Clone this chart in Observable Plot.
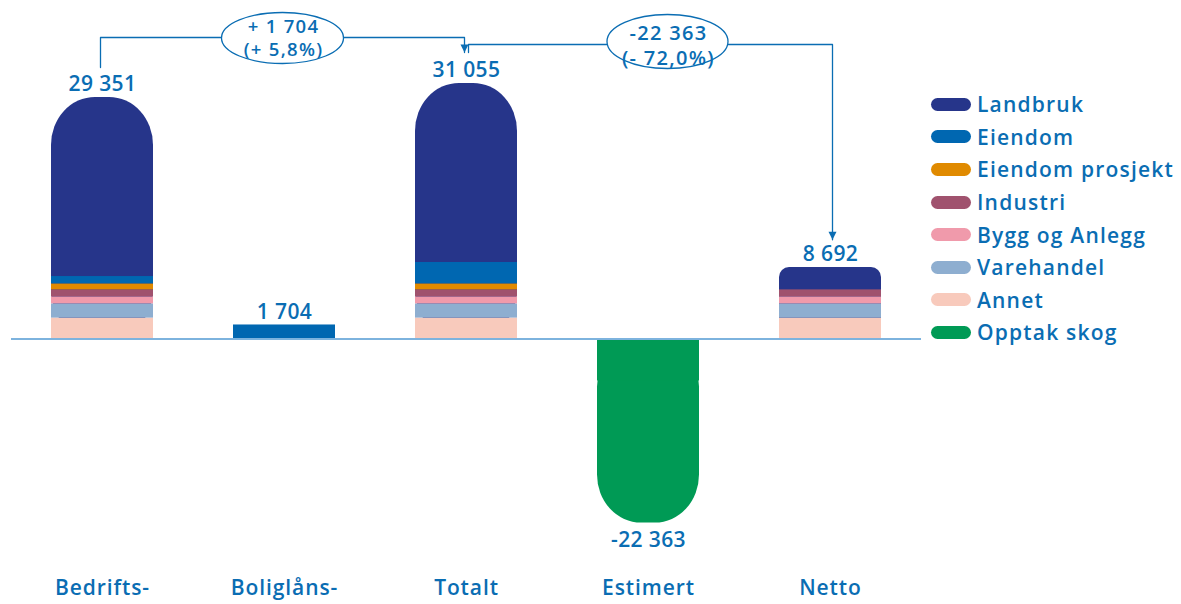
<!DOCTYPE html>
<html>
<head>
<meta charset="utf-8">
<script src="https://cdn.jsdelivr.net/npm/d3@7"></script>
<script src="https://cdn.jsdelivr.net/npm/@observablehq/plot@0.6"></script>
<style>
  html, body { margin: 0; padding: 0; background: #fff; }
  #wrap { position: relative; width: 1181px; height: 604px; overflow: hidden; font-family: "Open Sans", sans-serif; }
  #wrap svg text { font-weight: 600; letter-spacing: 0.4px; }
  #wrap svg g[aria-label="x-axis tick label"] text, #wrap svg g[aria-label="x-axis"] text { letter-spacing: 0.9px; }
  #legend { position: absolute; left: 931px; top: 88px; }
  .item { display: flex; align-items: center; height: 32.6px; color: #0a6db3; font-size: 21px; font-weight: 600; letter-spacing: 1.2px; }
  .sw { width: 40px; height: 13px; border-radius: 7px; margin-right: 6px; flex: none; }
</style>
</head>
<body>
<div id="wrap"><div id="legend"></div></div>
<script>
// ---- data ----
const categories = ["Bedrifts-", "Boliglåns-", "Totalt", "Estimert", "Netto"];
const sectors = ["Landbruk", "Eiendom", "Eiendom prosjekt", "Industri", "Bygg og Anlegg", "Varehandel", "Annet", "Opptak skog"];
const colors = ["#26358a", "#0067b1", "#e08a00", "#a0526e", "#f09aab", "#8eaed0", "#f8cabc", "#009a55"];
// values per category, in sector order
const bedrifts = [21761, 890, 730, 850, 850, 1730, 2540, 0];
const boliglan = [0, 1704, 0, 0, 0, 0, 0, 0];
const totalt   = [21761, 2594, 730, 850, 850, 1730, 2540, 0];
const estimert = [0, 0, 0, 0, 0, 0, 0, -22363];
const netto    = [2722, 0, 0, 850, 850, 1730, 2540, 0];
const totals = [29351, 1704, 31055, -22363, 8692];
const changeLabels = ["+ 1 704\n(+ 5,8%)", "-22 363\n(- 72,0%)"];
// annotation levels (data units)
const bracketTop = [36635, 35784];
const bracketStart = [32990, 34812];
const arrowEnd = [34812, 12060];
const squareTopCut = 5100;

const series = [bedrifts, boliglan, totalt, estimert, netto];
const blue = "#0a6db3";
const fmt = d3.formatLocale({thousands: "\u00a0", grouping: [3], decimal: ",", currency: ["", ""], minus: "-"}).format(",d");

// rows for stacked lower segments (drawn bottom-up: Annet ... Eiendom)
const stackOrder = [6, 5, 4, 3, 2, 1];
const segRows = [];
categories.forEach((c, ci) => {
  stackOrder.forEach(si => {
    const v = series[ci][si];
    if (v > 0) segRows.push({cat: c, sector: sectors[si], value: v});
  });
});
const totalRows = categories.map((c, i) => ({cat: c, total: totals[i]}));
const bigLand = totalRows.filter(d => d.cat === "Bedrifts-" || d.cat === "Totalt");
const smallLand = totalRows.filter(d => d.cat === "Netto");
const skog = totalRows.filter(d => d.cat === "Estimert");

const b1 = [
  {cat: categories[0], v: bracketStart[0]},
  {cat: categories[0], v: bracketTop[0]},
  {cat: categories[2], v: bracketTop[0]},
  {cat: categories[2], v: arrowEnd[0]}
];
const b2 = [
  {cat: categories[2], v: bracketStart[1]},
  {cat: categories[2], v: bracketTop[1]},
  {cat: categories[4], v: bracketTop[1]},
  {cat: categories[4], v: arrowEnd[1]}
];

const ellipse = (a, b) => ({draw(ctx) {
  const k = 0.5523;
  ctx.moveTo(a, 0);
  ctx.bezierCurveTo(a, b * k, a * k, b, 0, b);
  ctx.bezierCurveTo(-a * k, b, -a, b * k, -a, 0);
  ctx.bezierCurveTo(-a, -b * k, -a * k, -b, 0, -b);
  ctx.bezierCurveTo(a * k, -b, a, -b * k, a, 0);
  ctx.closePath();
}});
const arrowHead = {draw(ctx) { ctx.moveTo(0, 0); ctx.lineTo(-4, -8); ctx.lineTo(4, -8); ctx.closePath(); }};

const chart = Plot.plot({
  width: 1181,
  height: 604,
  marginLeft: 11,
  marginRight: 260,
  marginTop: 0,
  marginBottom: 28,
  style: {fontSize: "21px", color: blue, fontFamily: "'Open Sans', sans-serif", background: "transparent"},
  x: {domain: categories, paddingInner: 0.44, paddingOuter: 0.22, label: null, tickSize: 0, tickPadding: 4},
  y: {domain: [-28858, 41130], axis: null, nice: false},
  color: {domain: sectors, range: colors},
  marks: [
    // Landbruk caps (rounded), full height; lower segments cover their base
    Plot.barY(bigLand, {x: "cat", y: "total", fill: colors[0], rx: 44, ry: 48}),
    Plot.barY(smallLand, {x: "cat", y: "total", fill: colors[0], rx: 10, ry: 10}),
    // Opptak skog, rounded bottom with square top
    Plot.barY(skog, {x: "cat", y: "total", fill: colors[7], rx: 44, ry: 48}),
    Plot.barY(skog, {x: "cat", y: () => -squareTopCut, fill: colors[7]}),
    // stacked lower segments
    Plot.barY(segRows, {x: "cat", y: "value", fill: "sector"}),
    Plot.ruleY([0], {stroke: "#7db3de", strokeWidth: 2}),
    // value labels
    Plot.text(totalRows.filter(d => d.total > 0), {x: "cat", y: "total", text: d => fmt(d.total), lineAnchor: "bottom", dy: -6, fill: blue, fontSize: 21}),
    Plot.text(totalRows.filter(d => d.total < 0), {x: "cat", y: "total", text: d => fmt(d.total), lineAnchor: "top", dy: 9, fill: blue, fontSize: 21}),
    // change brackets
    Plot.line(b1, {x: "cat", y: "v", stroke: blue, strokeWidth: 1.3, dx: -2}),
    Plot.line(b2, {x: "cat", y: "v", stroke: blue, strokeWidth: 1.3, dx: 2}),
    Plot.dot([b1[3]], {x: "cat", y: "v", symbol: arrowHead, fill: blue, stroke: "none", dx: -2}),
    Plot.dot([b2[3]], {x: "cat", y: "v", symbol: arrowHead, fill: blue, stroke: "none", dx: 2}),
    Plot.dot([{cat: categories[1], v: bracketTop[0]}], {x: "cat", y: "v", symbol: ellipse(61, 25.5), fill: "white", stroke: blue, strokeWidth: 1.3, dx: -2, dy: 0.5}),
    Plot.dot([{cat: categories[3], v: bracketTop[1]}], {x: "cat", y: "v", symbol: ellipse(60.5, 27), fill: "white", stroke: blue, strokeWidth: 1.3, dx: 19, dy: -3}),
    Plot.text([{cat: categories[1], v: bracketTop[0], t: changeLabels[0]}], {x: "cat", y: "v", text: "t", fill: blue, fontSize: 18.5, lineHeight: 1.25, dx: -1, dy: 0}),
    Plot.text([{cat: categories[3], v: bracketTop[1], t: changeLabels[1]}], {x: "cat", y: "v", text: "t", fill: blue, fontSize: 20, lineHeight: 1.22, dx: 20, dy: 0})
  ]
});
d3.select(chart).selectAll("text").filter(function() { return this.textContent.includes("("); }).style("letter-spacing", "1.3px");
document.getElementById("wrap").prepend(chart);

const legend = d3.select("#legend");
sectors.forEach((s, i) => {
  const row = legend.append("div").attr("class", "item");
  row.append("div").attr("class", "sw").style("background", colors[i]);
  row.append("span").text(s);
});
</script>
</body>
</html>
